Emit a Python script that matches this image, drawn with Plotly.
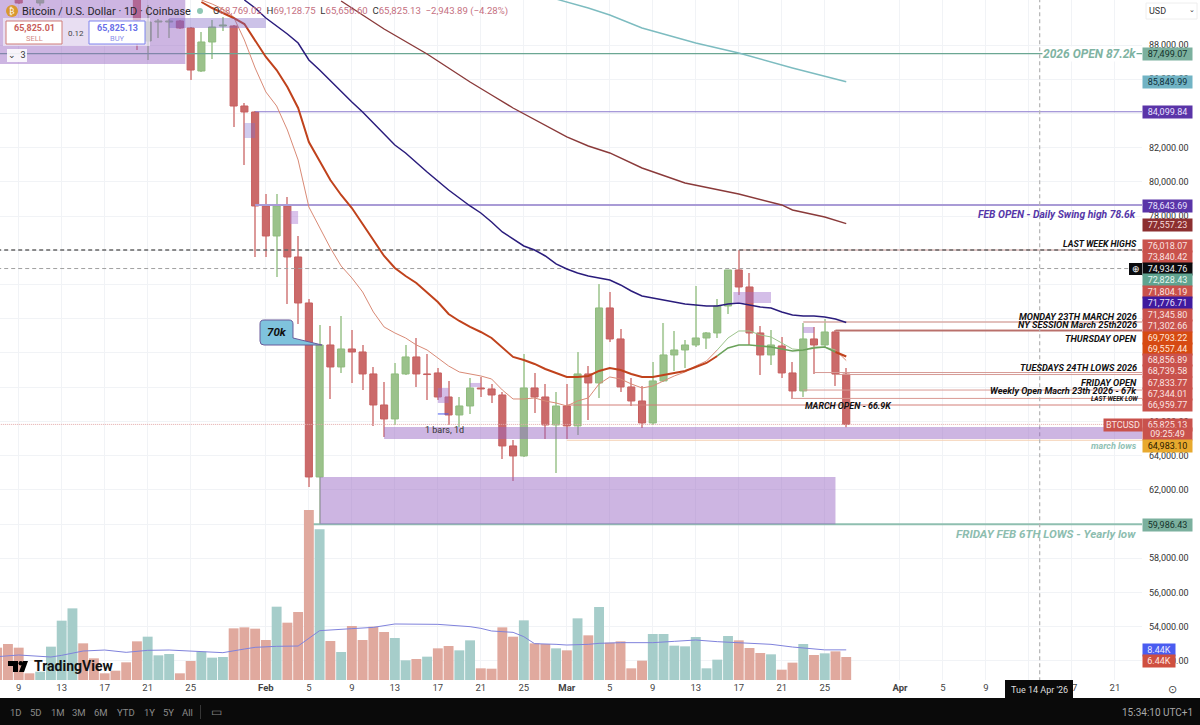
#!/usr/bin/env python3
import pandas as pd
import plotly.graph_objects as go

dates = pd.date_range("2026-01-07", "2026-03-27").strftime("%Y-%m-%d").tolist()

opens = [None, None, 91200, None, 90455, None, None, None, None, None, None, None, None,
         91214, 88234, 89344, 89344, 89403, 88994, 86481, 88176, 89111, 89111, 84435, 84085,
         78591, 76838, 78591, 75611, 72923, 62754, 70468, 69183, 70234, 70059, 68774, 66961, 66144, 68774,
         69767, 68774, 68832, 67429, 66377, 66903, 67955, 67897, 67546, 64566, 63981, 67955, 67429, 65793,
         66903, 65735, 68774, 68248, 72631, 70819, 68014, 67195, 65910, 68365, 69884, 70176, 70468, 70877,
         71170, 72747, 74851, 73858, 71170, 69884, 70410, 68832, 67780, 70819, 70468, 71228, 68769.02]
highs = [None, None, 91500, None, 91500, None, None, None, None, None, None, None, None,
         91400, 90338, 89520, 89520, 89461, 89052, 88760, 89461, 89637, 89170, 84610, 84143,
         79293, 79293, 79117, 76838, 73157, 71637, 71579, 72163, 71345, 70468, 69183, 68306, 69416, 70468,
         70877, 69942, 69124, 68365, 67429, 68540, 68598, 68189, 67721, 64916, 69942, 68832, 68189, 67721,
         68189, 70059, 69241, 74033, 73565, 71403, 68540, 68072, 69474, 71754, 71286, 70760, 73916, 71228,
         73157, 74851, 76018, 74676, 71579, 71345, 70936, 69474, 71754, 71520, 71988, 71345, 69128.75]
lows = [None, None, 90400, None, 90300, None, None, None, None, None, None, None, None,
        87708, 87124, 88409, 88409, 88935, 85955, 86423, 87182, 88819, 83208, 80987, 75611,
        75611, 74442, 72864, 71695, 62169, 59986, 67312, 68832, 68248, 67838, 65735, 65092, 65793, 68715,
        68014, 67254, 67254, 65793, 65676, 66436, 67429, 67078, 63806, 62520, 63923, 66494, 64975, 62988,
        64975, 65209, 66085, 67372, 70644, 67721, 66903, 65618, 65793, 68306, 68949, 69124, 70351, 70234,
        70877, 72280, 73390, 70468, 68715, 69299, 68540, 67312, 67429, 68774, 70351, 68072, 65656.60]
closes = [None, None, 90455, None, 91200, None, None, None, None, None, None, None, None,
          89461, 89344, 89403, 89403, 88994, 86539, 88176, 89052, 89170, 84435, 84085, 78591,
          76838, 78591, 75611, 72923, 62754, 70468, 69183, 70234, 70059, 68774, 66961, 66144, 68774, 69767,
          68774, 68740, 67429, 66377, 66903, 67955, 67897, 67546, 64566, 63981, 67955, 67429, 65793, 66903,
          65735, 68774, 68248, 72631, 70819, 68014, 67195, 65910, 68365, 69884, 70176, 70468, 70877, 71170,
          72747, 74851, 73858, 71170, 69884, 70468, 68832, 67780, 70819, 70468, 71228, 68769, 65825.13]

# volume in thousands
volume = [9.06, 10.08, 9.06, 1.87, 2.33, 9.34, 16.62, 20.07, 10.27, 6.07, 1.87, 2.61, 4.95,
          10.83, 12.14, 6.91, 7.28, 1.87, 5.32, 7.94, 6.26, 6.44, 14.47, 14.75, 14.38,
          11.2, 20.54, 16.06, 19.05, 47.62, 42.2, 10.92, 7.84, 15.13, 11.2, 14.94, 13.45, 11.76, 5.51,
          5.88, 6.54, 8.87, 9.52, 8.31, 11.11, 3.27, 3.17, 14.75, 12.14, 16.71, 10.27, 10.08, 8.87,
          8.31, 17.27, 12.51, 20.45, 10.46, 10.83, 3.27, 5.42, 12.89, 12.89, 9.62, 9.43, 12.05, 3.27,
          5.7, 12.32, 11.11, 8.96, 7.56, 7.19, 2.89, 4.86, 10.08, 7.0, 7.47, 8.03, 6.44]
volume_up = [0, 0, 0, 0, 1, 1, 1, 1, 0, 0, 0, 0, 0,
             0, 1, 1, 1, 0, 0, 1, 1, 1, 0, 0, 0,
             0, 1, 0, 0, 0, 1, 0, 1, 0, 0, 0, 0, 1, 1,
             0, 1, 0, 0, 1, 1, 0, 0, 0, 0, 1, 0, 0, 1,
             0, 1, 0, 1, 0, 0, 0, 0, 1, 1, 1, 1, 1, 1,
             1, 1, 0, 0, 0, 1, 0, 0, 1, 0, 1, 0, 0]

vol_ma_dates = ["2026-01-07", "2026-01-09", "2026-01-12", "2026-01-13", "2026-01-15", "2026-01-17", "2026-01-19",
                "2026-01-21", "2026-01-23", "2026-01-26", "2026-01-28", "2026-01-30", "2026-01-31", "2026-02-02",
                "2026-02-04", "2026-02-05", "2026-02-06", "2026-02-09", "2026-02-11", "2026-02-13", "2026-02-16",
                "2026-02-17", "2026-02-20", "2026-02-21", "2026-02-22", "2026-02-24", "2026-02-25", "2026-02-26",
                "2026-02-28", "2026-03-01", "2026-03-03", "2026-03-04", "2026-03-06", "2026-03-09", "2026-03-11",
                "2026-03-13", "2026-03-15", "2026-03-17", "2026-03-20", "2026-03-22", "2026-03-25", "2026-03-27"]
vol_ma = [6.54, 7.0, 6.44, 6.91, 8.12, 8.4, 7.75, 8.31, 8.4, 7.84, 7.66, 8.68, 9.15, 9.43, 9.52, 11.67, 13.82,
          14.38, 14.75, 15.69, 15.59, 15.59, 14.94, 14.47, 13.73, 13.35, 12.14, 10.18, 9.99, 9.8, 9.99, 10.27,
          10.46, 10.46, 10.83, 11.2, 10.74, 10.36, 9.99, 9.24, 8.44, 8.44]

teal_dates = ["2026-02-28", "2026-03-03", "2026-03-05", "2026-03-08", "2026-03-13", "2026-03-17", "2026-03-22", "2026-03-27"]
teal_ma = [90688, 90162, 89753, 88994, 88117, 87533, 86656, 85849.99]

brown_dates = ["2026-02-08", "2026-02-12", "2026-02-16", "2026-02-20", "2026-02-22", "2026-02-24", "2026-03-01", "2026-03-03",
               "2026-03-05", "2026-03-08", "2026-03-12", "2026-03-15", "2026-03-17", "2026-03-21", "2026-03-22", "2026-03-25", "2026-03-27"]
brown_ma = [90572, 88935, 87474, 85838, 85078, 84318, 82624, 82098, 81689, 80812, 79935, 79526, 79293, 78650, 78358, 77949, 77557.23]

# navy line, from Jan 30
navy_ma = [90630, 90162, 89578, 89111, 88643, 88117, 87124, 86539, 85896, 85254, 84669, 84085, 83442, 82799, 82156,
           81689, 81104, 80578, 80052, 79526, 79059, 78591, 78182, 77656, 77072, 76663, 76254, 76020, 75669, 75202,
           74910, 74676, 74501, 74384, 74267, 73975, 73624, 73332, 73215, 73098, 72981, 72864, 72805, 72747, 72747,
           72864, 72923, 72805, 72689, 72631, 72397, 72221, 72163, 72163, 72104, 71988, 71776.71]

# thick red line, from Jan 26
fast_ma = [90513, 90162, 89870, 89578, 89227, 88292, 87299, 86539, 85546, 84319, 82332, 81221, 80111, 79234, 78474,
           77539, 76604, 75669, 74968, 74501, 74092, 73507, 72981, 72280, 71871, 71520, 71228, 70877, 70293, 69767,
           69592, 69358, 69066, 68832, 68598, 68598, 68657, 68949, 69124, 69007, 68774, 68598, 68598, 68715, 68832,
           68949, 69183, 69416, 69825, 70293, 70468, 70468, 70410, 70351, 70234, 70117, 70176, 70293, 70351, 70059, 69793.22]

# thin salmon line, from Jan 26
thin_ma = [90630, 90396, 90104, 89637, 88292, 86656, 85254, 84435, 83033, 81280, 78533, 77306, 76137, 75085, 74384,
           73566, 72397, 71520, 71170, 70877, 70468, 70176, 69708, 69241, 68890, 68774, 68657, 68481, 67838, 67312,
           67312, 67372, 67195, 67078, 66903, 67195, 67372, 68189, 68598, 68481, 68189, 67955, 68072, 68365, 68657,
           68890, 69241, 69533, 70176, 70877, 71286, 71286, 71052, 70936, 70585, 70234, 70176, 70351, 70351, 70176, 69557.44]

x_ticks = ["2026-01-09", "2026-01-13", "2026-01-17", "2026-01-21", "2026-01-25", "2026-02-01", "2026-02-05", "2026-02-09",
           "2026-02-13", "2026-02-17", "2026-02-21", "2026-02-25", "2026-03-01", "2026-03-05", "2026-03-09", "2026-03-13",
           "2026-03-17", "2026-03-21", "2026-03-25", "2026-04-01", "2026-04-05", "2026-04-09", "2026-04-13", "2026-04-17", "2026-04-21"]
x_labels = ["9", "13", "17", "21", "25", "<b>Feb</b>", "5", "9", "13", "17", "21", "25", "<b>Mar</b>", "5", "9", "13", "17", "21", "25",
            "<b>Apr</b>", "5", "9", "13", "17", "21"]

level_prices = [87499.07, 84099.84, 78643.69, 76018.07, 71804.19, 71345.80, 71302.66, 68856.89, 68739.58, 67833.77, 67344.01, 66959.77, 64900, 59986.43]
level_starts = ["2026-01-07", "2026-01-31", "2026-01-31", "2026-03-17", "2026-03-23", "2026-03-26", "2026-03-26", "2026-03-24", "2026-03-26",
                "2026-03-23", "2026-03-22", "2026-03-01", "2026-03-01", "2026-02-05"]
level_colors = ["#6ba793", "#8a78cc", "#a99bd6", "#cf9c98", "#d8aba6", "#c98f8a", "#b9706b", "#d59a95", "#d59a95", "#d99a94", "#d99a94", "#d37f79", "#f5cfb0", "#8fbfb0"]
level_widths = [1.2, 1.2, 2, 1, 1.5, 1, 1.5, 1, 1, 1, 1, 1, 1, 2]

zone_starts = ["2026-01-06", "2026-01-23", "2026-01-30", "2026-02-03 06:00", "2026-02-17", "2026-02-20", "2026-03-16 12:00", "2026-03-23", "2026-02-06", "2026-02-12"]
zone_ends = ["2026-01-24 12:00", "2026-02-01", "2026-01-31", "2026-02-04", "2026-02-18", "2026-02-21", "2026-03-20", "2026-03-24", "2026-03-26", "2026-04-24"]
zone_tops = [90700, 89578, 83442, 78299, 67955, 68248, 73565, 71520, 62754, 65676]
zone_bottoms = [86890, 88994, 82565, 77540, 67078, 68014, 72923, 71170, 59986, 64975]
zone_colors = ["rgba(150,100,195,0.48)", "rgba(120,95,195,0.38)", "rgba(120,110,210,0.35)", "rgba(170,120,210,0.45)", "rgba(160,110,205,0.45)",
               "rgba(160,110,205,0.45)", "rgba(160,110,205,0.45)", "rgba(160,110,205,0.45)", "rgba(150,100,195,0.48)", "rgba(150,100,195,0.48)"]

# tags on the price scale: text, pixel y, background, text colour
price_tags = [("87,499.07", 54, "#7bb09e", "#12302a"), ("85,849.99", 82, "#71b3c4", "#0f2f38"), ("84,099.84", 112.5, "#5a34a8", "#e8e0ff"),
              ("78,643.69", 206, "#5a34a8", "#e8e0ff"), ("77,557.23", 224.5, "#8c2f30", "#f6dada"), ("76,018.07", 246, "#c9524c", "#fbe3e1"),
              ("73,840.42", 257, "#c9524c", "#fbe3e1"), ("74,934.76", 269, "#0b0b0e", "#eeeeee"), ("72,828.43", 280, "#5fa38f", "#e6f5ef"),
              ("71,804.19", 291.5, "#c9524c", "#fbe3e1"), ("71,776.71", 303, "#3f1a9e", "#e8e0ff"), ("71,345.80", 314.5, "#c9524c", "#fbe3e1"),
              ("71,302.66", 326, "#c9524c", "#fbe3e1"), ("69,793.22", 338, "#d64a12", "#ffe6da"), ("69,557.44", 349.5, "#d64a12", "#ffe6da"),
              ("68,856.89", 360, "#c9524c", "#fbe3e1"), ("68,739.58", 371, "#c9524c", "#fbe3e1"), ("67,833.77", 382.5, "#c9524c", "#fbe3e1"),
              ("67,344.01", 394, "#c9524c", "#fbe3e1"), ("66,959.77", 405, "#c9524c", "#fbe3e1"), ("65,825.13", 425, "#c9524c", "#fbe3e1"),
              ("09:25:49", 434.5, "#c9524c", "#fbe3e1"), ("64,983.10", 446, "#e8a92e", "#2a1a00"), ("59,986.43", 525, "#7bb09e", "#12302a")]

# text drawn on the chart: text, right pixel x, pixel y, size, colour
chart_notes = [("LAST WEEK HIGHS", 1138, 244, 8.8, "#111111"), ("MONDAY 23TH MARCH 2026", 1138, 316.5, 9.2, "#111111"),
               ("NY SESSION March 25th2026", 1138, 324, 9.2, "#111111"), ("THURSDAY OPEN", 1138, 338, 9.2, "#111111"),
               ("TUESDAYS 24TH LOWS 2026", 1138, 367, 9.2, "#111111"), ("FRIDAY OPEN", 1138, 382, 9.2, "#111111"),
               ("Weekly Open Macrh 23th 2026 - 67k", 1138, 391, 9.2, "#111111"), ("LAST WEEK LOW", 1139, 399, 6.3, "#111111"),
               ("MARCH OPEN - 66.9K", 893, 405.5, 8.9, "#111111"), ("march lows", 1138, 446, 9, "#8fc1b4"),
               ("2026 OPEN 87.2k", 1137, 54, 12, "#7fb3a2"), ("FEB OPEN - Daily Swing high 78.6k", 1137, 214, 10.3, "#5536a8"),
               ("FRIDAY FEB 6TH LOWS - Yearly low", 1137, 534, 11.6, "#8dbdaf")]

range_buttons = ["1D", "5D", "1M", "3M", "6M", "YTD", "1Y", "5Y", "All"]
range_button_x = [16, 36, 58, 79, 101, 126, 149, 168, 188]

FONT = "Roboto"
PLOT_W = 1142
PLOT_H = 680
X_END = "2026-04-23 12:30"
DAY_MS = 86400000


def px(x):
    return x / PLOT_W


def py(y):
    return (PLOT_H - y) / PLOT_H


def path(points):
    return " ".join(points)


def note(text, x, y, size=9, color="#222222", anchor="center", **kw):
    fig.add_annotation(xref="paper", yref="paper", x=px(x), y=py(y), text=text, showarrow=False,
                       xanchor=anchor, yanchor="middle", font=dict(family=FONT, size=size, color=color),
                       borderpad=0, **kw)


def box(x0, y0, x1, y1, fill, line="rgba(0,0,0,0)", width=1, kind="rect"):
    fig.add_shape(type=kind, xref="paper", yref="paper", x0=px(x0), x1=px(x1), y0=py(y0), y1=py(y1),
                  fillcolor=fill, line=dict(color=line, width=width), layer="above")


fig = go.Figure()

# volume
fig.add_trace(go.Bar(x=dates, y=volume, yaxis="y2", width=DAY_MS * 0.92,
                     marker=dict(color=["#a6cdca" if up else "#e0a99e" for up in volume_up], line_width=0)))
fig.add_trace(go.Scatter(x=vol_ma_dates, y=vol_ma, yaxis="y2", mode="lines", line=dict(color="#7f82dc", width=1)))

# horizontal levels
for price, start, color, width in zip(level_prices, level_starts, level_colors, level_widths):
    fig.add_trace(go.Scatter(x=[start, X_END], y=[price, price], mode="lines", line=dict(color=color, width=width)))
fig.add_trace(go.Scatter(x=["2026-01-07", X_END], y=[76018.07, 76018.07], mode="lines",
                         line=dict(color="#666666", width=1.3, dash="4px,3px")))
fig.add_trace(go.Scatter(x=["2026-01-07", "2026-04-21"], y=[65825.13, 65825.13], mode="lines",
                         line=dict(color="#e3a9a9", width=1, dash="1px,1px")))
# crosshair
fig.add_trace(go.Scatter(x=["2026-01-07", X_END], y=[74934.76, 74934.76], mode="lines",
                         line=dict(color="#a0a0a0", width=1, dash="4px,3px")))
fig.add_trace(go.Scatter(x=["2026-04-14", "2026-04-14"], y=[50000, 91000], mode="lines",
                         line=dict(color="#b4b4b4", width=1.2, dash="4px,3px")))
# small drawing on Feb 17
fig.add_trace(go.Scatter(x=["2026-02-17", "2026-02-18"], y=[66436, 66436], mode="lines", line=dict(color="#4a5cf0", width=1)))

# moving averages
fig.add_trace(go.Scatter(x=teal_dates, y=teal_ma, mode="lines", line=dict(color="#7dbcc0", width=1.4)))
fig.add_trace(go.Scatter(x=brown_dates, y=brown_ma, mode="lines", line=dict(color="#8a3a3a", width=1.4)))
fig.add_trace(go.Scatter(x=dates[23:], y=navy_ma, mode="lines", line=dict(color="#2a1c7c", width=1.5)))

# candles, plotly's candlestick boxes are too thin here so bars are used
is_up = [o is not None and c >= o for o, c in zip(opens, closes)]
fig.add_trace(go.Bar(x=dates, base=lows, y=[None if h is None else h - l for h, l in zip(highs, lows)], width=DAY_MS * 0.1,
                     marker=dict(color=["#b4d2a8" if up else "#dc9a9a" for up in is_up], line_width=0)))
fig.add_trace(go.Bar(x=dates, base=[None if o is None else min(o, c) for o, c in zip(opens, closes)],
                     y=[None if o is None else abs(c - o) for o, c in zip(opens, closes)], width=DAY_MS * 0.66,
                     marker=dict(color=["#9bc28b" if up else "#cb6a6a" for up in is_up],
                                 line=dict(color=["#8fbb7e" if up else "#c65f5f" for up in is_up], width=1))))

# fast lines change colour while price sits above them
fig.add_trace(go.Scatter(x=dates[19:68], y=thin_ma[:49], mode="lines", line=dict(color="#d98a76", width=1)))
fig.add_trace(go.Scatter(x=dates[67:79], y=thin_ma[48:60], mode="lines", line=dict(color="#9dc48c", width=1)))
fig.add_trace(go.Scatter(x=dates[78:], y=thin_ma[59:], mode="lines", line=dict(color="#d98a76", width=1)))
fig.add_trace(go.Scatter(x=dates[19:68], y=fast_ma[:49], mode="lines", line=dict(color="#c0421c", width=2)))
fig.add_trace(go.Scatter(x=dates[67:79], y=fast_ma[48:60], mode="lines", line=dict(color="#6aa25a", width=1.5)))
fig.add_trace(go.Scatter(x=dates[78:], y=fast_ma[59:], mode="lines", line=dict(color="#c0421c", width=2)))

for start, end, top, bottom, color in zip(zone_starts, zone_ends, zone_tops, zone_bottoms, zone_colors):
    fig.add_shape(type="rect", x0=start, x1=end, y0=bottom, y1=top, fillcolor=color, line_width=0, layer="above")

fig.update_layout(
    width=1200,
    height=725,
    margin=dict(l=0, r=58, t=0, b=45),
    paper_bgcolor="white",
    plot_bgcolor="white",
    showlegend=False,
    hovermode=False,
    barmode="overlay",
    font=dict(family=FONT, size=9, color="#333333"),
    xaxis=dict(range=["2026-01-07 06:15", X_END], tickvals=x_ticks, ticktext=x_labels, tickangle=0, ticklen=0,
               showgrid=True, gridcolor="#f1f3f6", gridwidth=1, zeroline=False, showline=False,
               rangeslider=dict(visible=False), tickfont=dict(family=FONT, size=9.5, color="#444444")),
    yaxis=dict(range=[50887, 90630], tickvals=list(range(52000, 90000, 2000)), side="right", tickformat=",.2f", ticklen=0,
               ticklabelstandoff=6, showgrid=True, gridcolor="#f1f3f6", gridwidth=1, zeroline=False, showline=False,
               tickfont=dict(family=FONT, size=9, color="#333333")),
    yaxis2=dict(range=[0, 190.5], overlaying="y", side="left", visible=False),
)

# header panel
box(3, 18, 150, 46, "rgba(255,255,255,0.55)")
box(6, 21, 62, 44, "white", "#cf7d78", 1)
box(89, 21, 145, 44, "white", "#7f84ee", 1)
box(7, 49, 27, 62, "rgba(255,255,255,0.85)")
box(6, 5, 18, 17, "#d9982e", kind="circle")
box(197, 8, 203, 14, "#8fc7b4", kind="circle")
note("₿", 12, 11, 8, "white")
note("Bitcoin / U.S. Dollar · 1D · Coinbase", 21, 11, 10.9, "#26262b", "left")
r = "#c5707f"
note("O<span style='color:%s'>68,769.02</span>  H<span style='color:%s'>69,128.75</span>  L<span style='color:%s'>65,656.60</span>  "
     "C<span style='color:%s'>65,825.13  −2,943.89 (−4.28%%)</span>" % (r, r, r, r), 212, 11, 9.6, "#333333", "left")
note("<b>65,825.01</b>", 34, 28, 9, "#c9605a")
note("SELL", 34, 38, 7.5, "#d38a85")
note("0.12", 76, 33, 8, "#444444")
note("<b>65,825.13</b>", 117, 28, 9, "#6a70e8")
note("BUY", 117, 38, 7.5, "#8b90ea")
note("⌄  3", 17, 55, 9, "#333333")

# 70k callout
fig.add_shape(type="path", xref="paper", yref="paper", layer="above", fillcolor="#7fc3dd", line=dict(color="#6a5a9a", width=1),
              path=path(["M%f,%f" % (px(264), py(320)), "L%f,%f" % (px(289), py(320)), "Q%f,%f %f,%f" % (px(293), py(320), px(293), py(324)),
                         "L%f,%f" % (px(293), py(338)), "L%f,%f" % (px(322), py(345)), "L%f,%f" % (px(264), py(345)),
                         "Q%f,%f %f,%f" % (px(260), py(345), px(260), py(341)), "L%f,%f" % (px(260), py(324)),
                         "Q%f,%f %f,%f" % (px(260), py(320), px(264), py(320)), "Z"]))
note("<b><i>70k</i></b>", 277, 332, 11.5, "#111111")
note("1 bars, 1d", 444, 430, 9, "#333333")

for text, x, y, size, color in chart_notes:
    note("<b><i>%s</i></b>" % text, x, y, size, color, "right", bgcolor="white" if size == 12 else None)

# price scale tags
for text, y, fill, color in price_tags:
    note(text, 1167.5, y, 9, color, width=49, height=11.5, bgcolor=fill, align="center")
note("BTCUSD", 1123, 425, 9, "#fbe3e1", width=38, height=12, bgcolor="#c9524c", align="center")
note("8.44K", 1159, 650, 9, "#e8eaff", width=32, height=11.5, bgcolor="#4a5cf0", align="center")
note("6.44K", 1159, 661, 9, "#ffe6e0", width=32, height=11.5, bgcolor="#cf4f3f", align="center")
box(1129, 263, 1142, 275, "#0b0b0e")
note("⊕", 1135.5, 269, 9, "white")
box(1146, 3, 1197, 19, "white", "#eeeeee", 1)
note("USD", 1148, 11, 9, "#333333", "left")
note("⌄", 1192, 10, 7, "#333333")

# TradingView logo
fig.add_shape(type="path", xref="paper", yref="paper", layer="above", fillcolor="black", line_width=0,
              path=path(["M%f,%f" % (px(8), py(661)), "L%f,%f" % (px(18), py(661)), "L%f,%f" % (px(18), py(672)), "L%f,%f" % (px(13), py(672)),
                         "L%f,%f" % (px(13), py(666)), "L%f,%f" % (px(8), py(666)), "Z"]))
fig.add_shape(type="path", xref="paper", yref="paper", layer="above", fillcolor="black", line_width=0,
              path=path(["M%f,%f" % (px(23), py(661)), "L%f,%f" % (px(28), py(661)), "L%f,%f" % (px(24), py(672)), "L%f,%f" % (px(19), py(672)), "Z"]))
box(18.5, 661, 23, 665.5, "black", kind="circle")
note("<b>TradingView</b>", 33, 666, 14, "#111111", "left")

# bottom bar and date label
box(-2, 698, 1202, 727, "#0a0a0a")
box(1005, 680, 1073, 698, "#0a0a0a")
note("Tue 14 Apr '26", 1039, 690, 9, "#dddddd")
note("⊙", 1172, 689, 11, "#444444")
for label, x in zip(range_buttons, range_button_x):
    note(label, x, 712, 9.5, "#8a8a8a")
box(200, 705, 200.6, 719, "#555555")
note("▭", 216, 712, 12, "#8a8a8a")
note("15:34:10 UTC+1", 1194, 712, 10, "#a8a8a8", "right")

fig.write_html("out.html", config={"displayModeBar": False}, post_script="document.body.style.margin='0';")
